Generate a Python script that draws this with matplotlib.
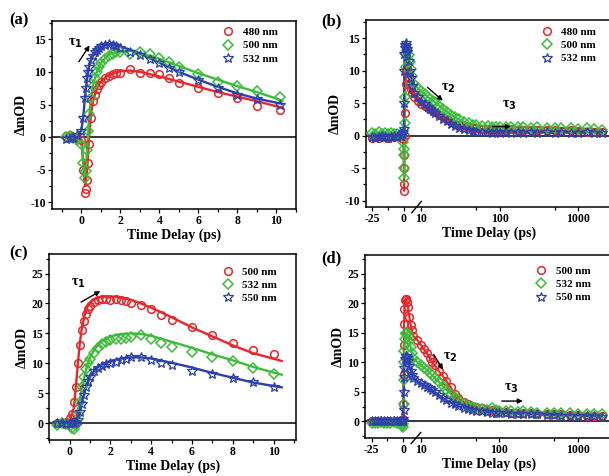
import numpy as np
import matplotlib
matplotlib.use("Agg")
import matplotlib.pyplot as plt
from matplotlib.ticker import FixedLocator, FixedFormatter, MultipleLocator

plt.rcParams['font.family'] = ['Liberation Serif', 'DejaVu Serif']
plt.rcParams['font.weight'] = 'bold'
plt.rcParams['axes.labelweight'] = 'bold'
plt.rcParams['axes.unicode_minus'] = False

RED = '#e8262b'
GREEN = '#3dbb3a'
BLUE = '#2c3fae'

#<======== panel (a) : short delay, sample 1 ========>
t_a = [-0.8, -0.6, -0.4, -0.2, 0.0, 0.1, 0.2, 0.25, 0.3, 0.35, 0.4, 0.5, 0.6, 0.7, 0.8,
       0.9, 1.0, 1.2, 1.4, 1.6, 1.8, 2.0, 2.5, 3.0, 3.5, 4.0, 4.5, 5.0, 6.0, 7.0, 8.0, 9.0, 10.2]
a_480 = [0.2, 0.3, 0.0, -0.2, -0.5, -5.0, -8.5, -8.0, -6.5, -4.0, -1.0, 3.0, 5.5, 6.5, 7.3,
         8.0, 8.5, 9.0, 9.3, 9.6, 9.8, 9.9, 10.4, 9.9, 9.9, 9.7, 9.1, 8.3, 7.6, 6.7, 6.0, 4.8, 4.2]
a_500 = [0.0, 0.1, -0.2, -0.5, -1.0, -4.0, -6.3, -5.2, -2.0, 1.0, 3.5, 6.0, 7.8, 9.0, 10.0,
         10.8, 11.3, 12.0, 12.5, 12.8, 13.0, 13.1, 12.8, 13.1, 12.7, 12.2, 11.5, 10.8, 9.7, 8.5, 7.9, 7.1, 6.1]
a_532 = [-0.3, -0.2, -0.1, 0.3, 1.0, 3.0, 6.0, 7.5, 9.0, 10.0, 10.8, 11.8, 12.5, 13.0, 13.4,
         13.7, 13.9, 14.1, 14.2, 14.1, 13.9, 13.6, 13.0, 12.6, 12.0, 11.3, 10.6, 10.0, 8.7, 7.5, 6.5, 5.8, 5.0]
tf_a = [-0.8, -0.4, -0.2, 0.0, 0.1, 0.2, 0.3, 0.4, 0.5, 0.6, 0.8, 1.0, 1.25, 1.5, 2.0, 2.5,
        3.0, 4.0, 5.0, 6.0, 7.0, 8.0, 9.0, 10.3]
fa_480 = [0, 0, 0, -0.3, -4.0, -7.5, -5.0, 0.0, 3.5, 5.5, 7.5, 8.5, 9.2, 9.6, 10.1, 10.2,
          10.0, 9.3, 8.5, 7.7, 6.9, 6.2, 5.5, 4.5]
fa_500 = [0, 0, 0, -0.5, -3.5, -6.0, -2.0, 3.0, 6.0, 8.0, 10.0, 11.3, 12.2, 12.8, 13.2, 13.2,
          12.9, 12.0, 10.9, 9.8, 8.8, 7.8, 6.9, 5.6]
fa_532 = [0, 0, 0.2, 1.0, 3.0, 6.5, 9.0, 10.8, 11.8, 12.5, 13.3, 13.8, 14.1, 14.2, 13.9, 13.4,
          12.8, 11.4, 10.0, 8.8, 7.7, 6.7, 5.9, 5.1]

#<======== panel (c) : short delay, sample 2 ========>
t_c = [-0.6, -0.4, -0.2, 0.0, 0.1, 0.2, 0.3, 0.4, 0.5, 0.6, 0.7, 0.8, 0.9, 1.0, 1.2, 1.4,
       1.6, 1.8, 2.0, 2.25, 2.5, 2.75, 3.0, 3.5, 4.0, 4.5, 5.0, 6.0, 7.0, 8.0, 9.0, 10.0]
c_500 = [0.0, 0.0, 0.2, 0.8, 1.5, 3.5, 6.0, 10.0, 13.0, 15.5, 17.0, 18.2, 19.0, 19.6, 20.2, 20.5,
         20.7, 20.8, 20.6, 20.7, 20.5, 20.4, 20.1, 19.8, 19.1, 18.1, 17.3, 16.1, 14.7, 13.4, 12.3, 11.5]
c_532 = [-0.3, 0.0, -0.2, -0.5, -0.8, -1.0, -0.3, 1.5, 3.5, 6.0, 7.8, 9.0, 10.0, 10.8, 11.8, 12.6,
         13.2, 13.6, 13.9, 14.1, 14.0, 14.3, 14.4, 14.8, 14.1, 13.4, 12.7, 11.9, 11.1, 10.4, 9.2, 8.2]
c_550 = [0.0, 0.1, -0.1, 0.0, 0.1, 0.0, 0.2, 0.5, 1.8, 3.2, 4.8, 6.0, 7.0, 7.8, 8.7, 9.3,
         9.6, 9.9, 10.1, 10.3, 10.6, 10.8, 11.0, 11.1, 10.5, 10.0, 9.7, 8.8, 8.2, 7.6, 6.9, 6.0]
tf_c = [-0.6, -0.2, 0.0, 0.2, 0.3, 0.4, 0.5, 0.6, 0.8, 1.0, 1.25, 1.5, 2.0, 2.5, 3.0, 3.5,
        4.0, 5.0, 6.0, 7.0, 8.0, 9.0, 10.4]
fc_500 = [0, 0, 0.3, 2.5, 6.0, 10.0, 13.5, 16.0, 19.0, 20.2, 20.8, 21.1, 21.2, 21.0, 20.6, 20.0,
          19.3, 17.7, 16.0, 14.5, 13.0, 11.7, 10.4]
fc_532 = [0, 0, -0.3, -0.8, 0.0, 2.0, 4.0, 6.0, 9.0, 11.0, 12.5, 13.5, 14.5, 14.9, 15.0, 14.9,
          14.6, 13.6, 12.6, 11.5, 10.5, 9.4, 8.1]
fc_550 = [0, 0, 0, 0, 0.1, 0.5, 1.8, 3.5, 6.0, 7.8, 9.0, 9.7, 10.4, 10.8, 11.0, 11.0,
          10.8, 10.1, 9.3, 8.4, 7.6, 6.8, 6.0]

#<======== panels (b),(d) : long delay (shared time grid) ========>
t_long = [-25, -22.5, -20, -17.5, -15, -12.5, -10, -7.5, -5, -2.5, -1, -0.5, 0, 0.2, 0.4, 0.6,
          0.8, 1, 1.5, 2, 2.5, 3, 4, 5, 6, 7, 8, 9, 10, 11, 12, 13, 14, 15, 17, 19, 21, 24,
          27, 30, 35, 40, 45, 50, 60, 70, 80, 90, 100, 120, 140, 170, 200, 250, 300, 400,
          500, 600, 800, 1000, 1300, 1600, 2000]
b_480 = [-0.3, -0.2, -0.3, -0.1, -0.2, -0.3, -0.1, -0.2, 0.0, -0.1, 0.0, -0.5, -3.0, -7.5, -8.5, -5.0,
         0.0, 3.5, 8.0, 10.0, 10.3, 10.0, 9.0, 8.0, 7.2, 6.5, 6.0, 5.4, 4.9, 4.6, 4.3, 4.1, 3.8, 3.6,
         3.2, 2.8, 2.5, 2.1, 1.8, 1.6, 1.4, 1.3, 1.2, 1.1, 1.0, 1.0, 0.9, 1.0, 0.9, 0.9, 1.0,
         0.9, 0.9, 0.8, 0.9, 0.8, 0.8, 0.7, 0.8, 0.7, 0.6, 0.6, 0.6]
b_500 = [0.4, 0.3, 0.5, 0.3, 0.4, 0.3, 0.4, 0.3, 0.3, 0.2, 0.0, -1.0, -2.0, -5.0, -6.5, -3.0,
         2.0, 6.0, 10.5, 12.5, 13.1, 13.2, 12.4, 11.3, 10.3, 9.2, 8.0, 7.3, 6.8, 6.4, 6.0, 5.7, 5.4, 5.1,
         4.6, 4.1, 3.7, 3.2, 2.8, 2.5, 2.1, 1.9, 1.7, 1.6, 1.5, 1.5, 1.4, 1.4, 1.4, 1.3, 1.3,
         1.4, 1.3, 1.2, 1.3, 1.2, 1.1, 1.2, 1.1, 1.0, 1.1, 1.0, 0.9]
b_532 = [-0.2, -0.3, -0.2, -0.1, -0.2, -0.3, -0.2, -0.1, -0.2, 0.0, 0.3, 0.5, 1.0, 5.0, 10.0, 12.5,
         13.5, 14.0, 14.2, 13.8, 13.3, 12.9, 11.5, 10.0, 8.8, 7.6, 6.6, 5.9, 5.2, 4.8, 4.4, 4.1, 3.8, 3.5,
         3.0, 2.6, 2.2, 1.8, 1.5, 1.2, 1.0, 0.8, 0.7, 0.6, 0.5, 0.5, 0.4, 0.5, 0.4, 0.5, 0.4,
         0.5, 0.4, 0.5, 0.4, 0.5, 0.4, 0.5, 0.4, 0.4, 0.5, 0.4, 0.4]
d_500 = [0.0, 0.1, 0.0, -0.1, 0.1, 0.0, 0.1, 0.0, 0.1, 0.0, 0.2, 0.3, 0.5, 3.0, 8.0, 13.0,
         16.5, 19.0, 20.5, 20.8, 20.7, 20.2, 19.3, 17.7, 16.4, 15.4, 14.5, 13.8, 13.0, 12.2, 11.5, 10.8,
         10.1, 9.5, 8.5, 7.7, 6.9, 5.8, 4.6, 3.9, 3.3, 3.0, 2.7, 2.5, 2.2, 2.0, 1.9, 1.8, 1.7,
         1.6, 1.5, 1.5, 1.4, 1.4, 1.3, 1.3, 1.2, 1.2, 1.1, 1.1, 1.0, 1.0, 1.0]
d_532 = [-0.3, -0.2, -0.3, -0.1, -0.2, -0.3, -0.2, -0.1, -0.3, -0.2, -0.5, -0.8, -1.0, -0.5, 3.0, 7.0,
         10.0, 12.0, 14.0, 14.8, 15.0, 14.9, 14.5, 13.6, 12.6, 11.6, 10.7, 10.1, 9.6, 9.1, 8.7, 8.2,
         7.8, 7.4, 6.7, 6.0, 5.4, 4.7, 4.1, 3.6, 3.0, 2.7, 2.4, 2.3, 2.1, 2.0, 2.2, 2.0, 1.8,
         1.7, 1.7, 1.6, 1.7, 1.6, 1.5, 1.5, 1.4, 1.5, 1.4, 1.3, 1.3, 1.2, 1.2]
d_550 = [0.0, 0.1, 0.0, 0.1, 0.0, 0.1, 0.0, 0.1, 0.0, 0.1, 0.0, 0.0, 0.0, 0.5, 2.0, 5.0,
         7.5, 9.0, 10.5, 11.0, 11.0, 10.8, 10.2, 9.4, 8.6, 7.9, 7.3, 6.9, 6.5, 6.2, 5.9, 5.6,
         5.3, 5.0, 4.5, 4.0, 3.6, 3.2, 2.9, 2.6, 2.3, 2.1, 1.9, 1.8, 1.7, 1.6, 1.5, 1.5, 1.4,
         1.4, 1.3, 1.3, 1.3, 1.2, 1.2, 1.1, 1.1, 1.0, 1.0, 1.0, 0.9, 0.9, 0.8]

labels_ab = ['480 nm', '500 nm', '532 nm']
labels_cd = ['500 nm', '532 nm', '550 nm']
long_ticks = [-25, 0, 10, 100, 1000]
long_tick_labels = ['-25', '0', '10', '100', '1000']

#<======== linear (<8 ps) + log (>8 ps) axis ========>
S = 0.016   # decades per ps in the linear part
XB = 8.0


def fwd(x):
    x = np.asarray(x, dtype=float)
    return np.where(x <= XB, x * S, XB * S + np.log10(np.maximum(x, XB) / XB))


def inv(y):
    y = np.asarray(y, dtype=float)
    return np.where(y <= XB * S, y / S, XB * 10 ** (np.maximum(y, XB * S) - XB * S))


styles = [dict(marker='o', ms=5.5, mew=1.1),
          dict(marker='D', ms=4.8, mew=1.1),
          dict(marker='*', ms=7.5, mew=0.9)]
colors = [RED, GREEN, BLUE]

fig = plt.figure(figsize=(6.09, 4.76), dpi=100)
ax_a = fig.add_axes([0.0854, 0.561, 0.4006, 0.395])
ax_b = fig.add_axes([0.601, 0.565, 0.404, 0.393])
ax_c = fig.add_axes([0.081, 0.0756, 0.405, 0.390])
ax_d = fig.add_axes([0.5998, 0.0798, 0.4052, 0.385])


def draw(ax, t, series, labels, fit_t=None, fits=None):
    ax.axhline(0, color='k', lw=1.1, zorder=1)
    for i, (y, lab) in enumerate(zip(series, labels)):
        if fits is not None:
            ax.plot(fit_t, fits[i], color=colors[i], lw=1.7, zorder=2)
        else:
            ax.plot(t, y, color=colors[i], lw=1.5, zorder=2)
        ax.plot(t, y, ls='none', color=colors[i], mfc='none', label=lab, zorder=3, **styles[i])


def style(ax, legend_xy):
    for sp in ax.spines.values():
        sp.set_linewidth(1.1)
    ax.tick_params(which='both', direction='out', labelsize=8.5, pad=1.5, width=0.9)
    ax.tick_params(which='major', length=3)
    ax.tick_params(which='minor', length=2)
    ax.set_xlabel('Time Delay (ps)', fontsize=10, labelpad=1)
    ax.set_ylabel('ΔmOD', fontsize=10, labelpad=2)
    ax.legend(loc='upper left', bbox_to_anchor=legend_xy, frameon=False, fontsize=8,
              handlelength=1.0, handletextpad=0.8, labelspacing=0.3, borderpad=0, borderaxespad=0)


def long_axis(ax):
    ax.set_xscale('function', functions=(fwd, inv))
    ax.set_xlim(-30, 2700)
    ax.xaxis.set_major_locator(FixedLocator(long_ticks))
    ax.xaxis.set_major_formatter(FixedFormatter(long_tick_labels))
    ax.xaxis.set_minor_locator(FixedLocator([-12.5, 50, 500]))
    ax.plot([6.5, 10.0], [-0.03, 0.03], transform=ax.get_xaxis_transform(),
            color='k', lw=1.0, clip_on=False)


# (a)
draw(ax_a, t_a, [a_480, a_500, a_532], labels_ab, tf_a, [fa_480, fa_500, fa_532])
ax_a.set_xlim(-1.5, 11)
ax_a.set_ylim(-11, 17.8)
ax_a.xaxis.set_major_locator(MultipleLocator(2))
ax_a.xaxis.set_minor_locator(MultipleLocator(1))
ax_a.yaxis.set_major_locator(MultipleLocator(5))
ax_a.yaxis.set_minor_locator(MultipleLocator(2.5))
style(ax_a, (0.70, 0.965))
ax_a.annotate('', xy=(0.5, 14.4), xytext=(-0.2, 11.2),
              arrowprops=dict(arrowstyle='-|>', color='k', lw=1.0, mutation_scale=7))
ax_a.text(-0.3, 14.3, 'τ$_\\mathbf{1}$', fontsize=10, ha='center', va='center')

# (b)
draw(ax_b, t_long, [b_480, b_500, b_532], labels_ab)
long_axis(ax_b)
ax_b.set_ylim(-11, 17.8)
ax_b.yaxis.set_major_locator(MultipleLocator(5))
ax_b.yaxis.set_minor_locator(MultipleLocator(2.5))
style(ax_b, (0.713, 0.96))
ax_b.annotate('', xy=(20, 5.1), xytext=(11.3, 7.7),
              arrowprops=dict(arrowstyle='-|>', color='k', lw=1.0, mutation_scale=7))
ax_b.text(22, 7.3, 'τ$_\\mathbf{2}$', fontsize=10, ha='center', va='center')
ax_b.annotate('', xy=(150, 1.4), xytext=(74, 1.4),
              arrowprops=dict(arrowstyle='-|>', color='k', lw=1.0, mutation_scale=7))
ax_b.text(134, 4.6, 'τ$_\\mathbf{3}$', fontsize=10, ha='center', va='center')

# (c)
draw(ax_c, t_c, [c_500, c_532, c_550], labels_cd, tf_c, [fc_500, fc_532, fc_550])
ax_c.set_xlim(-1, 11.1)
ax_c.set_ylim(-2.8, 28.2)
ax_c.xaxis.set_major_locator(MultipleLocator(2))
ax_c.xaxis.set_minor_locator(MultipleLocator(1))
ax_c.yaxis.set_major_locator(MultipleLocator(5))
ax_c.yaxis.set_minor_locator(MultipleLocator(2.5))
style(ax_c, (0.702, 0.933))
ax_c.annotate('', xy=(1.62, 22.3), xytext=(0.44, 20.0),
              arrowprops=dict(arrowstyle='-|>', color='k', lw=1.0, mutation_scale=7))
ax_c.text(0.4, 23.4, 'τ$_\\mathbf{1}$', fontsize=10, ha='center', va='center')

# (d)
draw(ax_d, t_long, [d_500, d_532, d_550], labels_cd)
long_axis(ax_d)
ax_d.set_ylim(-2.8, 28.2)
ax_d.yaxis.set_major_locator(MultipleLocator(5))
ax_d.yaxis.set_minor_locator(MultipleLocator(2.5))
style(ax_d, (0.690, 0.936))
ax_d.annotate('', xy=(20, 8.4), xytext=(14, 11.7),
              arrowprops=dict(arrowstyle='-|>', color='k', lw=1.0, mutation_scale=7))
ax_d.text(23.5, 10.8, 'τ$_\\mathbf{2}$', fontsize=10, ha='center', va='center')
ax_d.annotate('', xy=(215, 3.45), xytext=(99, 3.45),
              arrowprops=dict(arrowstyle='-|>', color='k', lw=1.0, mutation_scale=7))
ax_d.text(142, 5.6, 'τ$_\\mathbf{3}$', fontsize=10, ha='center', va='center')

for lab, x, y in [('(a)', 19, 20), ('(b)', 331, 21), ('(c)', 19, 253), ('(d)', 331, 258)]:
    fig.text(x / 609, 1 - y / 476, lab, fontsize=12, fontweight='bold', ha='center', va='center')

fig.savefig('out.png', dpi=100)
